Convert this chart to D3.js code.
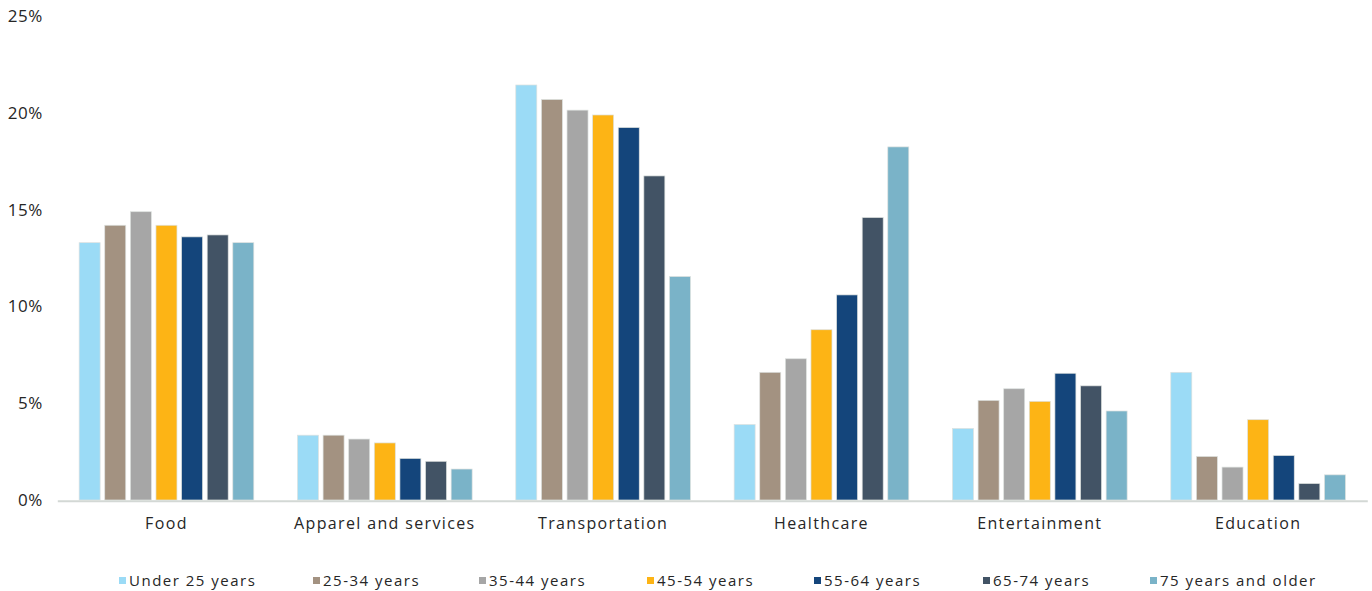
<!DOCTYPE html>
<html>
<head>
<meta charset="utf-8">
<script src="https://cdn.jsdelivr.net/npm/d3@7"></script>
<style>
  html, body { margin: 0; padding: 0; background: #ffffff; }
  svg { display: block; }
  text { font-family: "Open Sans", "Noto Sans", sans-serif; fill: #262626; }
</style>
</head>
<body>
<svg id="chart" width="1372" height="591"></svg>
<script>
// Spending categories along the x axis
const categories = ["Food", "Apparel and services", "Transportation", "Healthcare", "Entertainment", "Education"];

// Age groups (one bar per group in every category)
const ageGroups = ["Under 25 years", "25-34 years", "35-44 years", "45-54 years", "55-64 years", "65-74 years", "75 years and older"];

// Share of total spending (%), in category order
const under25   = [13.3, 3.35, 21.45, 3.9, 3.7, 6.6];
const age25to34 = [14.2, 3.35, 20.7, 6.6, 5.15, 2.25];
const age35to44 = [14.9, 3.15, 20.15, 7.3, 5.75, 1.7];
const age45to54 = [14.2, 2.95, 19.9, 8.8, 5.1, 4.15];
const age55to64 = [13.6, 2.15, 19.25, 10.6, 6.55, 2.3];
const age65to74 = [13.7, 2.0, 16.75, 14.6, 5.9, 0.85];
const age75plus = [13.3, 1.6, 11.55, 18.25, 4.6, 1.3];

// Value axis ticks (%)
const yTicks = [0, 5, 10, 15, 20, 25];

const seriesValues = [under25, age25to34, age35to44, age45to54, age55to64, age65to74, age75plus];
const colors = ["#9bdbf6", "#a39281", "#a6a6a6", "#fdb415", "#14457b", "#425365", "#7ab3c8"];

const svg = d3.select("#chart");

const plotLeft = 57.3, plotRight = 1367.3;
const y0 = 500, yTop = 16.3;

const x0 = d3.scaleBand()
  .domain(categories)
  .range([plotLeft, plotRight])
  .paddingInner(0.2)
  .paddingOuter(0.1);

const x1 = d3.scaleBand()
  .domain(ageGroups)
  .range([0, x0.bandwidth()])
  .paddingInner(0.18);

const y = d3.scaleLinear().domain([0, 25]).range([y0, yTop]);

const color = d3.scaleOrdinal().domain(ageGroups).range(colors);

// Bars: one group per category
const rows = categories.map((c, i) => ({
  category: c,
  values: ageGroups.map((g, j) => ({ group: g, value: seriesValues[j][i] }))
}));

const groups = svg.append("g")
  .selectAll("g")
  .data(rows)
  .join("g")
  .attr("transform", d => `translate(${x0(d.category)},0)`);

groups.selectAll("rect")
  .data(d => d.values)
  .join("rect")
  .attr("x", d => x1(d.group))
  .attr("y", d => y(d.value))
  .attr("width", x1.bandwidth())
  .attr("height", d => y0 - y(d.value))
  .attr("fill", d => color(d.group))
  .attr("stroke", "#dde1df")
  .attr("stroke-width", 0.7);

// Category axis along the baseline
const xAxis = svg.append("g")
  .attr("transform", `translate(0,${y0 + 0.7})`)
  .call(d3.axisBottom(x0).tickSize(0).tickPadding(0));
xAxis.select(".domain")
  .attr("stroke", "#d3d8d5")
  .attr("stroke-width", 2);
xAxis.selectAll("text")
  .attr("dy", null)
  .attr("y", 28)
  .style("font-size", "16px")
  .style("letter-spacing", "1.35px")
  .style("font-family", "'Open Sans', sans-serif")
  .attr("fill", "#262626");

// Value axis labels (no line)
const yAxis = svg.append("g")
  .attr("transform", `translate(43,0)`)
  .call(d3.axisLeft(y).tickValues(yTicks).tickSize(0).tickPadding(0).tickFormat(d => d + "%"));
yAxis.select(".domain").remove();
yAxis.selectAll("text")
  .style("font-size", "17px")
  .style("letter-spacing", "0.6px")
  .style("font-family", "'Open Sans', sans-serif")
  .attr("fill", "#262626");

// Legend
const legendTextX = [129, 323, 489, 657, 824, 993, 1160];
const legend = svg.append("g")
  .selectAll("g")
  .data(ageGroups)
  .join("g")
  .attr("transform", (d, i) => `translate(${legendTextX[i]},0)`);

legend.append("rect")
  .attr("x", -10)
  .attr("y", 577)
  .attr("width", 7)
  .attr("height", 7)
  .attr("fill", d => color(d));

legend.append("text")
  .attr("x", 0)
  .attr("y", 586)
  .style("font-size", "15px")
  .style("letter-spacing", "1.5px")
  .text(d => d);
</script>
</body>
</html>
